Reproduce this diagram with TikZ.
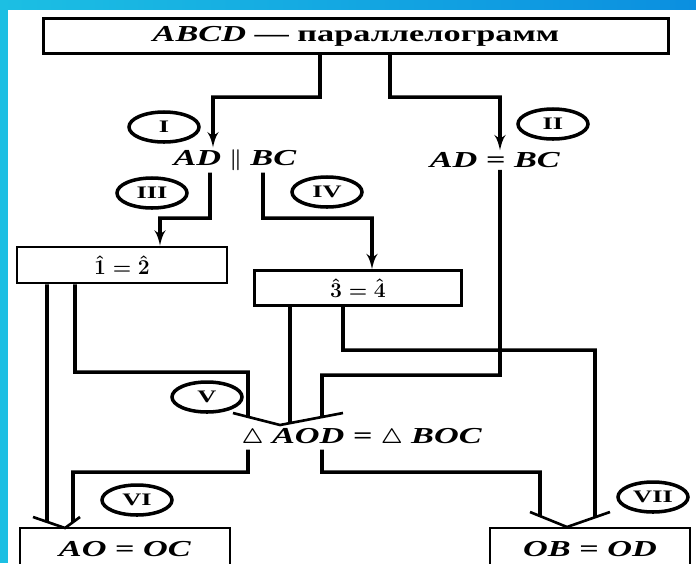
\documentclass[tikz,border=0pt]{standalone}
\usepackage{fontspec}
\setmainfont{Liberation Serif}[FakeStretch=1.5]
\usetikzlibrary{arrows,shapes.geometric}
\definecolor{skyleft}{HTML}{1CBFE3}
\definecolor{skyright}{HTML}{0B8FE0}
\newcommand{\angeq}[2]{$\hat{\mathbf{#1}}=\hat{\mathbf{#2}}$}
\tikzset{
    box/.style={rectangle,draw,line width=1.6pt,inner sep=0pt,font=\fontsize{13}{15}\selectfont\bfseries\boldmath},
    txt/.style={inner sep=1pt,font=\fontsize{13}{15}\selectfont\bfseries\boldmath},
    stepnum/.style={ellipse,draw,line width=2pt,minimum width=14mm,minimum height=6mm,inner sep=0pt,font=\fontsize{10}{11}\selectfont\bfseries},
    link/.style={-,line width=2pt,draw=black},
    arr/.style={->,> = latex',line width=2pt,draw=black},
    mergeline/.style={-,line width=1.5pt,draw=black},
}
\begin{document}
\begin{tikzpicture}[x=0.2mm,y=-0.2mm]
    \useasboundingbox (0,0) rectangle (696,563);
    \clip (0,0) rectangle (696,563);
    \fill[white] (0,0) rectangle (696,563);
    \shade[left color=skyleft,right color=skyright] (0,0) rectangle (696,9);
    \fill[skyleft] (0,0) rectangle (8,563);

    \node[box,minimum width=125mm,minimum height=7mm] (top) at (356,36) {\textit{ABCD} — параллелограмм};
    \node[txt] (par) at (235,160) {\textit{AD} $\parallel$ \textit{BC}};
    \node[txt] (eq) at (495,160) {\textit{AD} = \textit{BC}};
    \node[box,minimum width=42mm,minimum height=7.2mm] (a12) at (122,265) {\angeq{1}{2}};
    \node[box,minimum width=41.4mm,minimum height=7mm] (a34) at (358,288) {\angeq{3}{4}};
    \node[txt] (tri) at (362,438) {$\triangle$ \textit{AOD} = $\triangle$ \textit{BOC}};
    \node[box,minimum width=42mm,minimum height=8.4mm] (ao) at (125,549) {\textit{AO} = \textit{OC}};
    \node[box,minimum width=40mm,minimum height=8.4mm] (ob) at (590,549) {\textit{OB} = \textit{OD}};

    \node[stepnum] (s1) at (164,127) {I};
    \node[stepnum] (s2) at (553,124) {II};
    \node[stepnum] (s3) at (152,193) {III};
    \node[stepnum] (s4) at (327,192) {IV};
    \node[stepnum] (s5) at (207,397) {V};
    \node[stepnum] (s6) at (137,500) {VI};
    \node[stepnum] (s7) at (653,497) {VII};

    \coordinate (mt) at (280,425);
    \coordinate (ml) at (65,528);
    \coordinate (mr) at (567,527);

    \draw[arr] ([xshift=-7.2mm]top.south) -- (320,97) -| ([xshift=-4.4mm]par.north);
    \draw[arr] ([xshift=6.8mm]top.south) -- (390,97) -| ([xshift=1mm]eq.north);
    \draw[arr] ([xshift=-5mm]par.south) -- (210,218) -| ([xshift=7.6mm]a12.north);
    \draw[arr] ([xshift=5.6mm]par.south) -- (263,218) -| ([xshift=2.8mm]a34.north);

    \draw[link] ([xshift=1mm]eq.south) -- (500,375) -| (322,417);
    \draw[link] ([xshift=-13.6mm]a34.south) -- (290,423);
    \draw[link] ([xshift=-3mm]a34.south) -- (343,350) -| (595,517);
    \draw[link] ([xshift=-15mm]a12.south) -- (47,522);
    \draw[link] ([xshift=-9.4mm]a12.south) -- (75,372) -| (248,417);
    \draw[link] ([xshift=-22.8mm]tri.south) -- (248,472) -| (73,522);
    \draw[link] ([xshift=-8mm]tri.south) -- (322,472) -| (540,516);

    \draw[mergeline] (233,413) -- (mt) -- (343,413);
    \draw[mergeline] (33,517) -- (ml) -- (80,517);
    \draw[mergeline] (530,512) -- (mr) -- (610,512);
\end{tikzpicture}
\end{document}
